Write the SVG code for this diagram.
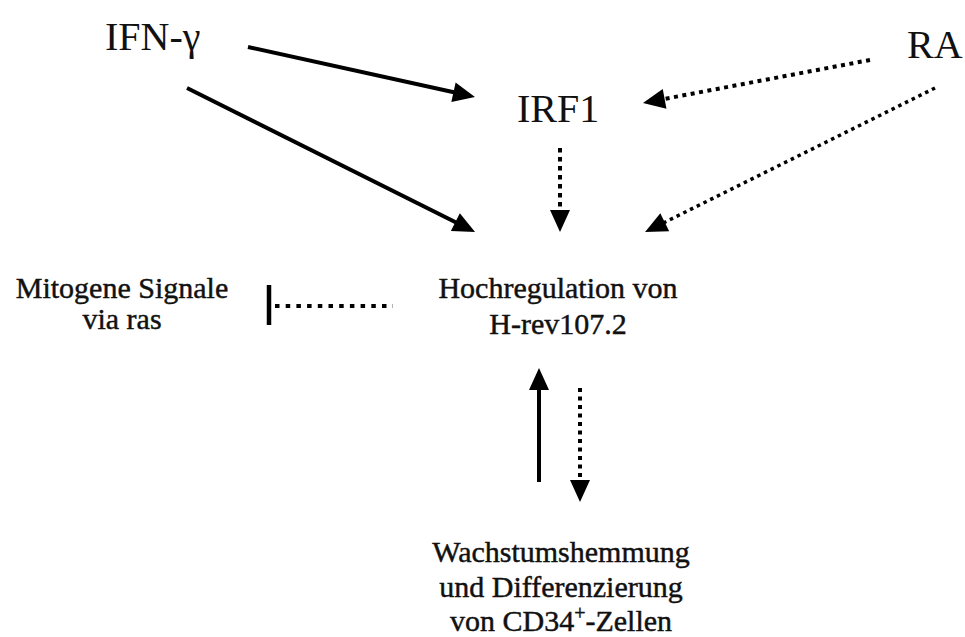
<svg xmlns="http://www.w3.org/2000/svg" width="965" height="637" viewBox="0 0 965 637">
<style>
.solid{stroke:#000;stroke-width:4;fill:none}
.dot{stroke:#000;stroke-width:4;fill:none;stroke-dasharray:4 4.5}
</style>
<defs>
<marker id="ah" markerUnits="userSpaceOnUse" markerWidth="22" markerHeight="20" refX="12" refY="10" orient="auto" overflow="visible">
<path d="M0,0 L22,10 L0,20 z" fill="#000"/>
</marker>
</defs>
<rect width="965" height="637" fill="#fff"/>
<g font-family="Liberation Serif" fill="#111" font-size="40">
<g id="n-ifn"><text style="font-family:'Liberation Serif',serif !important" x="105" y="50">IFN-γ</text></g>
<g id="n-irf1"><text style="font-family:'Liberation Serif',serif !important" x="517" y="122">IRF1</text></g>
<g id="n-ra"><text style="font-family:'Liberation Serif',serif !important" x="907" y="58">RA</text></g>
</g>
<g font-family="Liberation Serif" fill="#111" stroke="#111" stroke-width="0.45" font-size="30" text-anchor="middle">
<g id="n-mito"><text style="font-family:'Liberation Serif',serif !important" x="122" y="298">Mitogene Signale</text><text style="font-family:'Liberation Serif',serif !important" x="122" y="329">via ras</text></g>
<g id="n-hoch"><text style="font-family:'Liberation Serif',serif !important" x="558" y="298">Hochregulation von</text><text style="font-family:'Liberation Serif',serif !important" x="558" y="334">H-rev107.2</text></g>
<g id="n-wachs"><text style="font-family:'Liberation Serif',serif !important" x="561" y="562">Wachstumshemmung</text><text style="font-family:'Liberation Serif',serif !important" x="561" y="597">und Differenzierung</text><text style="font-family:'Liberation Serif',serif !important" x="561" y="631">von CD34<tspan font-size="20" dy="-11">+</tspan><tspan dy="11">-Zellen</tspan></text></g>
</g>
<g id="connectors">
<line class="solid" x1="248" y1="47" x2="465.2" y2="94.8" marker-end="url(#ah)"/>
<line class="solid" x1="187" y1="88" x2="466.1" y2="227.5" marker-end="url(#ah)"/>
<line class="dot" x1="870" y1="60" x2="652.8" y2="101.1" marker-end="url(#ah)"/>
<line class="dot" style="stroke-width:3.5;stroke-dasharray:3.5 4" x1="935" y1="88" x2="654" y2="227.6" marker-end="url(#ah)"/>
<line class="dot" style="stroke-dasharray:4.5 4.5" x1="560" y1="148" x2="560" y2="222" marker-end="url(#ah)"/>
<line class="dot" style="stroke-dasharray:4.5 6.2" x1="275" y1="306" x2="393" y2="306"/>
<line class="solid" style="stroke-width:4.5" x1="269" y1="285" x2="269" y2="325"/>
<line class="solid" x1="539" y1="482" x2="539" y2="378" marker-end="url(#ah)"/>
<line class="dot" x1="580" y1="388" x2="580" y2="492" marker-end="url(#ah)"/>
</g>
</svg>
